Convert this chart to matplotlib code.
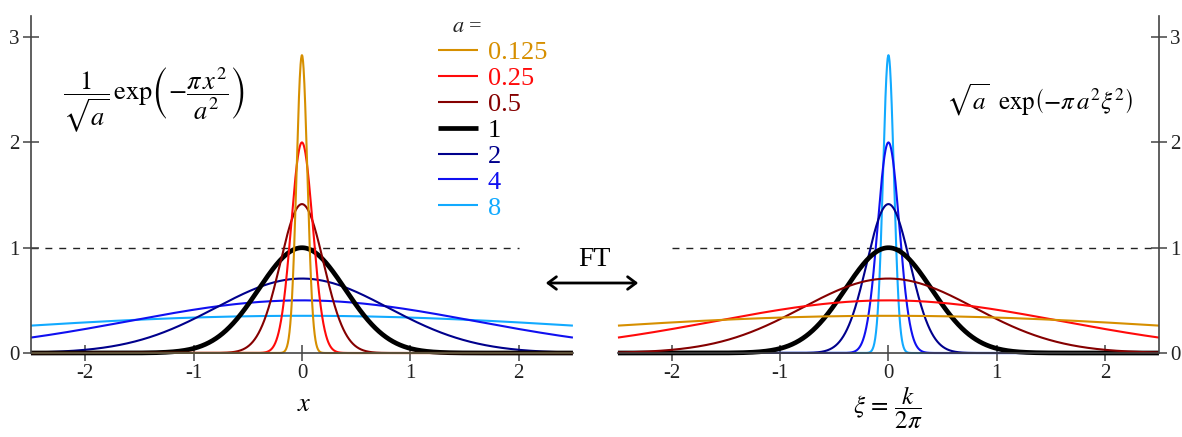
import matplotlib
matplotlib.use("Agg")
import matplotlib.pyplot as plt
import numpy as np

# width parameters a shown in the legend (top to bottom)
A_VALUES = [0.125, 0.25, 0.5, 1, 2, 4, 8]
A_LABELS = ["0.125", "0.25", "0.5", "1", "2", "4", "8"]
COLORS = ["#d68f00", "#ff0a0a", "#850000", "#000000", "#00008c", "#1010f0", "#12aaff"]
WIDTHS = [1.5, 1.5, 1.5, 3.4, 1.5, 1.5, 1.5]

X_TICKS = [-2, -1, 0, 1, 2]
X_TICK_LABELS = ["-2", "-1", "0", "1", "2"]
Y_TICKS = [0, 1, 2, 3]
X_RANGE = (-2.5, 2.5)
Y_RANGE = (0, 3.2)

SPINE = "#444444"


def _configure() -> None:
    plt.rcParams["font.family"] = "serif"
    plt.rcParams["font.serif"] = ["Liberation Serif", "DejaVu Serif"]
    plt.rcParams["mathtext.fontset"] = "stix"
    plt.rcParams["axes.unicode_minus"] = False


def _style_axis(ax, side: str) -> None:
    for name in ["top", "left", "right"]:
        ax.spines[name].set_visible(False)
    ax.spines[side].set_visible(True)
    for name in ["bottom", side]:
        ax.spines[name].set_color(SPINE)
        ax.spines[name].set_linewidth(1.2)
    ax.set_xlim(*X_RANGE)
    ax.set_ylim(*Y_RANGE)
    ax.set_xticks(X_TICKS)
    ax.set_xticklabels(X_TICK_LABELS)
    ax.set_yticks(Y_TICKS)
    ax.tick_params(direction="inout", length=12, width=1.1, color=SPINE,
                   labelsize=15, labelcolor="#222222", pad=2)
    if side == "right":
        ax.yaxis.tick_right()
    ax.patch.set_visible(False)


def main() -> None:
    _configure()
    fig = plt.figure(figsize=(11.82, 4.37), dpi=100)
    ax1 = fig.add_axes([0.0262, 0.1922, 0.4585, 0.771])
    ax2 = fig.add_axes([0.5228, 0.1922, 0.4577, 0.771])
    _style_axis(ax1, "left")
    _style_axis(ax2, "right")

    x = np.linspace(*X_RANGE, 2001)
    lines = {}
    # widest curves first, narrowest on top
    for a, label, color, lw in reversed(list(zip(A_VALUES, A_LABELS, COLORS, WIDTHS))):
        f = np.exp(-np.pi * x ** 2 / a ** 2) / np.sqrt(a)
        g = np.sqrt(a) * np.exp(-np.pi * a ** 2 * x ** 2)
        (ln,) = ax1.plot(x, f, color=color, lw=lw, label=label, solid_capstyle="butt", clip_on=False)
        ax2.plot(x, g, color=color, lw=lw, solid_capstyle="butt", clip_on=False)
        lines[label] = ln

    ax1.axhline(1, xmin=0, xmax=0.9, color="#222222", lw=1.0, ls=(0, (5, 5)), zorder=0)
    ax2.axhline(1, xmin=0.1, xmax=1, color="#222222", lw=1.0, ls=(0, (5, 5)), zorder=0)

    ax1.legend([lines[l] for l in A_LABELS], A_LABELS, loc="upper left",
               bbox_to_anchor=(438 / 1182, 1 - 41 / 437), bbox_transform=fig.transFigure,
               frameon=False, fontsize=19, labelcolor="linecolor", borderpad=0,
               borderaxespad=0, handlelength=1.5, handletextpad=0.38, labelspacing=0.09)
    fig.text(467 / 1182, 1 - 27 / 437, "$a$ =", ha="center", va="center", fontsize=16, color="#222222")

    fig.text(154 / 1182, 1 - 100 / 437,
             r"$\dfrac{1}{\sqrt{a}}\,\exp\!\left(-\dfrac{\pi\, x^2}{a^2}\right)$",
             ha="center", va="center", fontsize=19)
    fig.text(1040 / 1182, 1 - 100 / 437,
             r"$\sqrt{a}\;\;\exp\!\left(-\pi\, a^2\xi^2\right)$",
             ha="center", va="center", fontsize=18)

    fig.text(304 / 1182, 1 - 405 / 437, "$x$", ha="center", va="center", fontsize=19)
    fig.text(888 / 1182, 1 - 408 / 437, r"$\xi\,=\,\dfrac{k}{2\pi}$", ha="center", va="center", fontsize=18)

    fig.text(594 / 1182, 1 - 259 / 437, "FT", ha="center", va="center", fontsize=20)
    fig.patches.append(matplotlib.patches.FancyArrowPatch(
        (543 / 1182, 1 - 283 / 437), (641 / 1182, 1 - 283 / 437), transform=fig.transFigure,
        arrowstyle="<->,head_length=6,head_width=4.5", lw=2.0, color="black", mutation_scale=1))

    fig.savefig("out.png", dpi=100)
    plt.close(fig)


if __name__ == "__main__":
    main()
